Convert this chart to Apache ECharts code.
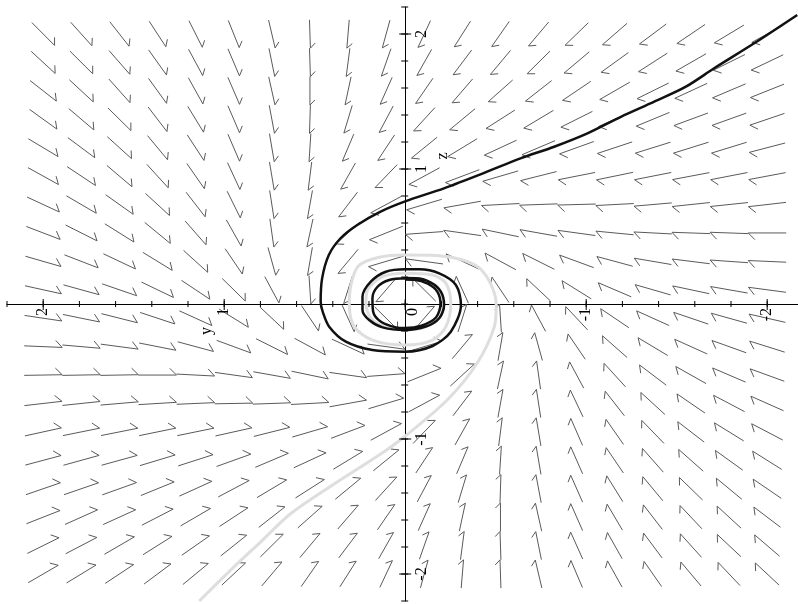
<!DOCTYPE html>
<html>
<head>
<meta charset="utf-8">
<script src="https://cdn.jsdelivr.net/npm/echarts@6/dist/echarts.min.js"></script>
<style>
  html, body { margin: 0; padding: 0; background: #ffffff; }
  #chart { width: 798px; height: 604px; }
</style>
</head>
<body>
<div id="chart"></div>
<script>
// Sample points of the direction field (y runs left-to-right from 2 to -2, z top-to-bottom from 2 to -2)
const gridY = [2, 1.7895, 1.5789, 1.3684, 1.1579, 0.9474, 0.7368, 0.5263, 0.3158, 0.1053,
               -0.1053, -0.3158, -0.5263, -0.7368, -0.9474, -1.1579, -1.3684, -1.5789, -1.7895, -2];
const gridZ = [2, 1.7895, 1.5789, 1.3684, 1.1579, 0.9474, 0.7368, 0.5263, 0.3158, 0.1053,
               -0.1053, -0.3158, -0.5263, -0.7368, -0.9474, -1.1579, -1.3684, -1.5789, -1.7895, -2];

// y' component of the field, one row per z value (rows follow gridZ, columns follow gridY)
const fieldY = [
  [-52,-47,-44,-38,-30,-24,-14,-2,5,16,27,36,39,46,50,55,58,62,62,66],
  [-55,-51,-47,-41,-32,-26,-13,-2,8,21,33,41,45,52,55,62,64,65,69,72],
  [-59,-54,-48,-42,-33,-27,-14,0,13,26,38,45,53,59,62,66,68,71,74,75],
  [-62,-57,-53,-44,-36,-27,-12,2,18,31,47,56,62,65,70,72,74,77,77,77],
  [-66,-60,-56,-47,-39,-27,-11,4,25,37,56,64,71,72,77,79,79,79,80,80],
  [-70,-65,-59,-51,-41,-29,-11,8,32,49,66,75,79,83,83,83,83,83,81,83],
  [-74,-69,-63,-56,-44,-31,-10,11,41,68,75,83,84,86,85,85,86,85,85,85],
  [-78,-74,-68,-59,-47,-35,-9,13,53,74,81,84,82,84,81,85,86,85,84,85],
  [-80,-77,-74,-68,-55,-39,-18,11,45,75,81,74,69,70,77,80,83,83,84,85],
  [-85,-81,-78,-73,-65,-51,-32,-4,19,45,49,26,36,54,66,75,80,81,81,84],
  [-85,-84,-83,-79,-74,-60,-54,-36,-26,-49,-45,-19,4,32,49,63,71,77,80,82],
  [-88,-86,-84,-83,-83,-77,-70,-69,-74,-81,-75,-45,-11,18,39,55,66,71,77,78],
  [-88,-86,-86,-86,-86,-85,-84,-82,-84,-81,-74,-53,-13,9,32,47,60,66,73,76],
  [-85,-85,-86,-86,-86,-85,-86,-84,-83,-75,-68,-41,-11,10,28,42,53,62,68,72],
  [-85,-85,-86,-84,-84,-84,-83,-79,-75,-66,-49,-32,-8,11,26,39,49,59,64,67],
  [-84,-81,-81,-79,-79,-79,-72,-71,-64,-56,-37,-25,-4,11,26,38,46,53,60,63],
  [-80,-80,-77,-75,-74,-69,-65,-62,-56,-47,-31,-18,-2,12,26,35,44,50,55,60],
  [-76,-75,-74,-71,-68,-66,-59,-53,-45,-38,-26,-13,0,14,26,33,41,47,51,56],
  [-71,-70,-68,-65,-62,-58,-52,-45,-41,-33,-21,-8,2,13,26,32,39,45,50,54],
  [-68,-65,-62,-59,-56,-52,-46,-39,-36,-27,-16,-5,2,14,25,32,38,44,48,52]
];

// z' component of the field, same layout
const fieldZ = [
  [-70,-70,-75,-78,-80,-80,-80,-82,-80,-78,-77,-76,-75,-73,-65,-64,-58,-56,-50,-48],
  [-68,-68,-72,-77,-80,-82,-86,-84,-82,-80,-78,-73,-72,-69,-62,-60,-55,-50,-46,-46],
  [-62,-67,-72,-78,-80,-84,-84,-84,-81,-78,-74,-70,-63,-62,-56,-51,-45,-44,-42,-40],
  [-60,-65,-70,-77,-79,-84,-86,-84,-80,-78,-69,-62,-53,-52,-47,-43,-41,-38,-37,-35],
  [-53,-60,-68,-76,-80,-84,-87,-84,-79,-75,-61,-52,-44,-41,-37,-35,-33,-33,-33,-28],
  [-52,-58,-67,-75,-79,-84,-88,-84,-76,-68,-48,-38,-31,-28,-22,-23,-22,-21,-21,-21],
  [-46,-54,-60,-69,-76,-84,-87,-82,-72,-49,-30,-20,-6,-4,-3,-6,-10,-12,-12,-13],
  [-40,-50,-57,-65,-72,-83,-86,-80,-65,-40,-8,16,23,20,15,11,6,4,4,0],
  [-31,-40,-47,-56,-67,-77,-87,-85,-72,-30,15,46,50,47,38,29,19,14,8,5],
  [-25,-30,-36,-47,-58,-67,-80,-82,-80,-70,65,77,72,68,55,43,31,23,19,15],
  [-17,-23,-28,-35,-45,-50,-68,-72,-77,-65,70,80,82,80,70,57,43,35,30,25],
  [-5,-10,-15,-22,-30,-38,-47,-50,-46,-15,30,72,85,87,77,65,53,43,37,33],
  [2,2,2,0,-6,-16,-20,-23,-16,8,40,65,80,86,80,69,61,50,42,37],
  [13,12,10,7,5,2,4,6,20,30,49,72,82,87,79,72,65,57,48,43],
  [25,23,23,23,23,25,28,31,38,48,68,76,84,88,80,75,68,61,53,47],
  [30,30,30,32,34,38,41,44,52,61,75,79,84,87,79,75,70,63,58,53],
  [37,37,37,41,45,49,52,53,62,69,78,80,84,86,79,75,71,65,61,55],
  [40,45,45,49,53,58,62,63,70,74,78,81,84,84,79,75,71,67,63,57],
  [47,49,53,55,58,62,69,72,73,78,80,82,84,86,78,76,70,67,63,62],
  [53,53,55,59,62,65,73,75,76,77,78,80,82,80,79,77,73,70,68,65]
];

// Solution curve entering from the upper right and winding onto the cycle
const orbitDark = [
  [-2.166,2.141],[-1.928,1.931],[-1.707,1.746],[-1.551,1.610],[-1.376,1.499],[-1.192,1.387],
  [-1.007,1.264],[-0.823,1.165],[-0.637,1.079],[-0.453,0.980],[-0.214,0.857],[0.004,0.758],
  [0.136,0.684],[0.265,0.585],[0.357,0.487],[0.422,0.363],[0.459,0.190],[0.467,0.017],
  [0.455,-0.060],[0.420,-0.168],[0.328,-0.279],[0.181,-0.341],[0.000,-0.353],[-0.151,-0.311],
  [-0.252,-0.205],[-0.308,-0.007],[-0.280,0.141],[-0.188,0.227],[-0.077,0.257],[0.000,0.257],
  [0.107,0.239],[0.190,0.165],[0.236,0.054],[0.236,-0.044],[0.199,-0.119],[0.125,-0.173],
  [0.000,-0.193],[-0.114,-0.168],[-0.188,-0.106],[-0.215,-0.007],[-0.197,0.091],[-0.142,0.158],
  [-0.059,0.190],[0.000,0.190],[0.088,0.178],[0.153,0.128],[0.181,0.042],[0.177,-0.057],
  [0.134,-0.131],[0.051,-0.173],[0.000,-0.178],[-0.090,-0.160],[-0.170,-0.100],[-0.195,0.000],
  [-0.178,0.090],[-0.125,0.150],[-0.050,0.180],[0.000,0.182]
];

// Solution curve rising from the lower left and winding onto the cycle
const orbitLight = [
  [1.138,-2.200],[0.956,-1.960],[0.807,-1.773],[0.630,-1.550],[0.376,-1.319],[0.144,-1.119],
  [0.006,-0.985],[-0.232,-0.711],[-0.398,-0.437],[-0.492,-0.170],[-0.503,-0.007],[-0.475,0.141],
  [-0.409,0.267],[-0.309,0.330],[-0.170,0.360],[0.000,0.363],[0.150,0.345],[0.260,0.280],
  [0.300,0.140],[0.309,0.000],[0.282,-0.168],[0.181,-0.267],[0.000,-0.304],[-0.151,-0.267],
  [-0.225,-0.168],[-0.252,0.005],[-0.225,0.153],[-0.151,0.215],[0.000,0.227],[0.125,0.202],
  [0.208,0.104],[0.217,0.005],[0.190,-0.106],[0.107,-0.173],[0.000,-0.193],[-0.110,-0.170],
  [-0.190,-0.100],[-0.210,0.000],[-0.190,0.100],[-0.120,0.170],[0.000,0.200]
];

// Axis ticks and labels
const yMinorTicks = [2.2,2.0,1.8,1.6,1.4,1.2,1.0,0.8,0.6,0.4,0.2,0,-0.2,-0.4,-0.6,-0.8,-1.0,-1.2,-1.4,-1.6,-1.8,-2.0,-2.2];
const zMinorTicks = [2.2,2.0,1.8,1.6,1.4,1.2,1.0,0.8,0.6,0.4,0.2,0,-0.2,-0.4,-0.6,-0.8,-1.0,-1.2,-1.4,-1.6,-1.8,-2.0,-2.2];
const yMajorTicks = [2, 1, 0, -1, -2];
const zMajorTicks = [2, 1, -1, -2];
const yTickLabels = [2, 1, 0, -1, -2];
const zTickLabels = [2, 1, -1, -2];
const axisTitles = [
  { name: 'y', pos: [1.094, -0.20] },
  { name: 'z', pos: [-0.21, 1.096] }
];

const ARROW_LEN = 0.21;      // arrow length in data units
const SERIF = '"Liberation Serif", "Times New Roman", serif';
const LABEL_FONT = '16px ' + SERIF;

// Build the arrow items from the field tables
const arrowData = [];
gridZ.forEach((z, r) => {
  gridY.forEach((y, c) => {
    arrowData.push([y, z, fieldY[r][c], fieldZ[r][c]]);
  });
});

function renderArrow(params, api) {
  const y = api.value(0), z = api.value(1);
  const fy = api.value(2), fz = api.value(3);
  const n = Math.hypot(fy, fz) || 1;
  const h = ARROW_LEN / 2;
  const tail = api.coord([y - h * fy / n, z - h * fz / n]);
  const tip = api.coord([y + h * fy / n, z + h * fz / n]);
  const bx = tail[0] - tip[0], by = tail[1] - tip[1];
  const len = Math.hypot(bx, by) || 1;
  const barb = 0.25 * len;
  const c = Math.SQRT1_2, s = Math.SQRT1_2;
  const hx = (c * bx - s * by) / len * barb;
  const hy = (s * bx + c * by) / len * barb;
  return {
    type: 'polyline',
    shape: { points: [tail, tip, [tip[0] + hx, tip[1] + hy]] },
    style: { stroke: '#5a5a5a', lineWidth: 1, fill: null }
  };
}

function tickSeries(values, horizontal, up, down) {
  return {
    type: 'custom',
    coordinateSystem: 'cartesian2d',
    silent: true,
    z: 5,
    data: values.map(v => [v]),
    renderItem: function (params, api) {
      const v = api.value(0);
      const p = horizontal ? api.coord([v, 0]) : api.coord([0, v]);
      const shape = horizontal
        ? { x1: p[0], y1: p[1] - up, x2: p[0], y2: p[1] + down }
        : { x1: p[0] - up, y1: p[1], x2: p[0] + down, y2: p[1] };
      return { type: 'line', shape, style: { stroke: '#000', lineWidth: 1 } };
    }
  };
}

// Tick labels: turned a quarter turn, under the horizontal axis and right of the vertical one
function labelSeries(values, horizontal) {
  return {
    type: 'custom',
    coordinateSystem: 'cartesian2d',
    silent: true,
    z: 6,
    data: values.map(v => [v]),
    renderItem: function (params, api) {
      const v = api.value(0);
      const p = horizontal ? api.coord([v, 0]) : api.coord([0, v]);
      // the origin label sits a little right of the crossing, clear of the vertical axis
      const shift = horizontal && v === 0 ? 8 : 0;
      return {
        type: 'text',
        x: horizontal ? p[0] + shift : p[0] + 9,
        y: horizontal ? p[1] + 4 : p[1],
        rotation: Math.PI / 2,
        style: {
          text: String(v),
          font: LABEL_FONT,
          fill: '#000',
          align: horizontal ? 'right' : 'center',
          verticalAlign: horizontal ? 'middle' : 'top'
        }
      };
    }
  };
}

const chart = echarts.init(document.getElementById('chart'), null, { renderer: 'canvas' });

chart.setOption({
  backgroundColor: '#ffffff',
  animation: false,
  grid: { left: 7, top: 7, width: 796.4, height: 594, containLabel: false, outerBoundsMode: 'none' },
  xAxis: {
    type: 'value', min: -2.2, max: 2.2, inverse: true,
    axisLine: { onZero: true, lineStyle: { color: '#000', width: 1 } },
    axisTick: { show: false },
    splitLine: { show: false },
    axisLabel: { show: false }
  },
  yAxis: {
    type: 'value', min: -2.2, max: 2.2,
    axisLine: { onZero: true, lineStyle: { color: '#000', width: 1 } },
    axisTick: { show: false },
    splitLine: { show: false },
    axisLabel: { show: false }
  },
  series: [
    {
      type: 'custom',
      coordinateSystem: 'cartesian2d',
      silent: true,
      z: 1,
      data: arrowData,
      renderItem: renderArrow
    },
    {
      type: 'line',
      data: orbitLight,
      showSymbol: false,
      smooth: 0.3,
      z: 2,
      lineStyle: { color: '#dedede', width: 3 }
    },
    {
      type: 'line',
      data: orbitDark,
      showSymbol: false,
      smooth: 0.3,
      z: 3,
      lineStyle: { color: '#111111', width: 2.5 }
    },
    tickSeries(yMinorTicks, true, 3, 3),
    tickSeries(yMajorTicks, true, 5, 6),
    tickSeries(zMinorTicks, false, 4, 3),
    tickSeries(zMajorTicks, false, 6, 6),
    labelSeries(yTickLabels, true),
    labelSeries(zTickLabels, false),
    {
      type: 'custom',
      coordinateSystem: 'cartesian2d',
      silent: true,
      z: 6,
      data: axisTitles.map(t => [t.pos[0], t.pos[1]]),
      renderItem: function (params, api) {
        const p = api.coord([api.value(0), api.value(1)]);
        return {
          type: 'text',
          x: p[0], y: p[1],
          rotation: Math.PI / 2,
          style: {
            text: axisTitles[params.dataIndex].name,
            font: LABEL_FONT,
            fill: '#000',
            align: 'center',
            verticalAlign: 'middle'
          }
        };
      }
    }
  ]
});
</script>
</body>
</html>
